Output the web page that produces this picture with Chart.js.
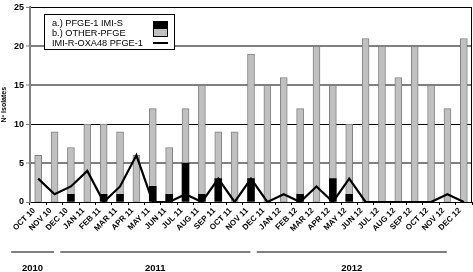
<!DOCTYPE html>
<html>
<head>
<meta charset="utf-8">
<script src="https://cdn.jsdelivr.net/npm/chart.js@4.4.0/dist/chart.umd.min.js"></script>
<style>
  html, body { margin: 0; padding: 0; background: #fff; }
</style>
</head>
<body>
<canvas id="chart" width="473" height="272"></canvas>
<script>
const months = ['OCT 10', 'NOV 10', 'DEC 10', 'JAN 11', 'FEB 11', 'MAR 11', 'APR 11', 'MAY 11', 'JUN 11',
  'JUL 11', 'AUG 11', 'SEP 11', 'OCT 11', 'NOV 11', 'DEC 11', 'JAN 12', 'FEB 12', 'MAR 12', 'APR 12',
  'MAY 12', 'JUN 12', 'JUL 12', 'AUG 12', 'SEP 12', 'OCT 12', 'NOV 12', 'DEC 12'];

// a.) black part of the bar
const pfge1ImiS = [0, 0, 1, 0, 1, 1, 0, 2, 1, 5, 1, 3, 0, 3, 0, 0, 1, 0, 3, 1, 0, 0, 0, 0, 0, 0, 0];
// b.) grey part on top of it
const otherPfge = [6, 9, 6, 10, 9, 8, 6, 10, 6, 7, 14, 6, 9, 16, 15, 16, 11, 20, 12, 9, 21, 20, 16, 20, 15, 12, 21];
// line
const imiROxa48 = [3, 1, 2, 4, 0, 2, 6, 0, 0, 1, 0, 3, 0, 3, 0, 1, 0, 2, 0, 3, 0, 0, 0, 0, 0, 1, 0];

const yearLabels = ['2010', '2011', '2012'];
const yearFirst = ['OCT 10', 'JAN 11', 'JAN 12'];
const yearLast = ['DEC 10', 'DEC 11', 'DEC 12'];

const FONT = '"Liberation Sans", Arial, sans-serif';
const GRID_GREY = '#808080';

const legendBox = {
  id: 'legendBox',
  afterDatasetsDraw(chart) {
    const ctx = chart.ctx;
    const ds = chart.data.datasets;
    ctx.save();
    ctx.fillStyle = '#fff';
    ctx.fillRect(44, 14, 130, 35);
    ctx.strokeStyle = '#000';
    ctx.lineWidth = 1;
    ctx.strokeRect(44.5, 14.5, 130, 35);

    ctx.font = '9.2px ' + FONT;
    ctx.fillStyle = '#000';
    ctx.textBaseline = 'middle';
    ctx.fillText(ds[0].label, 52, 23.5);
    ctx.fillText(ds[1].label, 52, 33);
    ctx.fillText(ds[2].label, 52, 43);

    // bar swatch: black over grey
    ctx.fillStyle = '#000';
    ctx.fillRect(153, 21, 15, 8);
    ctx.fillStyle = '#c0c0c0';
    ctx.fillRect(153, 29, 15, 8);
    ctx.strokeStyle = '#000';
    ctx.strokeRect(153.5, 21.5, 14, 15);
    // line swatch
    ctx.lineWidth = 2;
    ctx.beginPath();
    ctx.moveTo(153, 43);
    ctx.lineTo(168, 43);
    ctx.stroke();
    ctx.restore();
  }
};

const frameAndYears = {
  id: 'frameAndYears',
  afterDraw(chart) {
    const ctx = chart.ctx;
    const a = chart.chartArea;
    const x = chart.scales.x;
    ctx.save();
    // right border
    ctx.strokeStyle = '#000';
    ctx.lineWidth = 1;
    ctx.beginPath();
    ctx.moveTo(a.right - 0.5, a.top);
    ctx.lineTo(a.right - 0.5, a.bottom);
    ctx.stroke();

    // year groups under the month labels
    ctx.strokeStyle = GRID_GREY;
    ctx.lineWidth = 2;
    ctx.fillStyle = '#000';
    ctx.font = 'bold 9.5px ' + FONT;
    ctx.textAlign = 'center';
    ctx.textBaseline = 'middle';
    yearLabels.forEach((y, i) => {
      const x0 = x.getPixelForValue(months.indexOf(yearFirst[i])) - 27;
      const x1 = x.getPixelForValue(months.indexOf(yearLast[i])) - 17;
      ctx.beginPath();
      ctx.moveTo(x0, 252);
      ctx.lineTo(x1, 252);
      ctx.stroke();
      ctx.fillText(y, (x0 + x1) / 2, 268);
    });
    ctx.restore();
  }
};

new Chart(document.getElementById('chart'), {
  data: {
    labels: months,
    datasets: [
      {
        type: 'bar',
        label: 'a.) PFGE-1 IMI-S',
        data: pfge1ImiS,
        backgroundColor: '#000',
        borderColor: '#000',
        borderWidth: 0,
        barThickness: 7,
        stack: 's',
        order: 1
      },
      {
        type: 'bar',
        label: 'b.) OTHER-PFGE',
        data: otherPfge,
        backgroundColor: '#c0c0c0',
        borderColor: '#808080',
        borderWidth: 1,
        barThickness: 7,
        stack: 's',
        order: 2
      },
      {
        type: 'line',
        label: 'IMI-R-OXA48 PFGE-1',
        data: imiROxa48,
        borderColor: '#000',
        borderWidth: 2.2,
        pointRadius: 0,
        tension: 0,
        order: 0
      }
    ]
  },
  options: {
    responsive: false,
    animation: false,
    layout: { padding: { top: 3, right: 1, left: 0, bottom: 0 } },
    plugins: {
      legend: { display: false },
      tooltip: { enabled: false }
    },
    scales: {
      x: {
        stacked: true,
        offset: true,
        afterFit(scale) { scale.height = 70; },
        grid: {
          offset: true,
          drawOnChartArea: false,
          drawTicks: true,
          tickLength: 3,
          color: '#000'
        },
        border: { color: '#000', width: 1 },
        ticks: {
          autoSkip: false,
          minRotation: 45,
          maxRotation: 45,
          labelOffset: -4,
          padding: 1,
          color: '#000',
          font: { family: FONT, size: 8, weight: 'bold' }
        }
      },
      y: {
        stacked: true,
        min: 0,
        max: 25,
        afterFit(scale) { scale.width = 30; },
        border: { color: GRID_GREY, width: 2 },
        grid: {
          color: (c) => (c.tick.value === 10 || c.tick.value === 25 || c.tick.value === 0) ? '#000' : GRID_GREY,
          lineWidth: (c) => (c.tick.value === 10 || c.tick.value === 25 || c.tick.value === 0) ? 1 : 2,
          tickLength: 4,
          tickColor: GRID_GREY,
          tickWidth: 1
        },
        ticks: {
          stepSize: 5,
          padding: 2,
          color: '#000',
          font: { family: FONT, size: 9, weight: 'bold' }
        },
        title: {
          display: true,
          text: 'Nº Isolates',
          color: '#000',
          padding: 0,
          font: { family: FONT, size: 7, weight: 'bold' }
        }
      }
    }
  },
  plugins: [legendBox, frameAndYears]
});
</script>
</body>
</html>
